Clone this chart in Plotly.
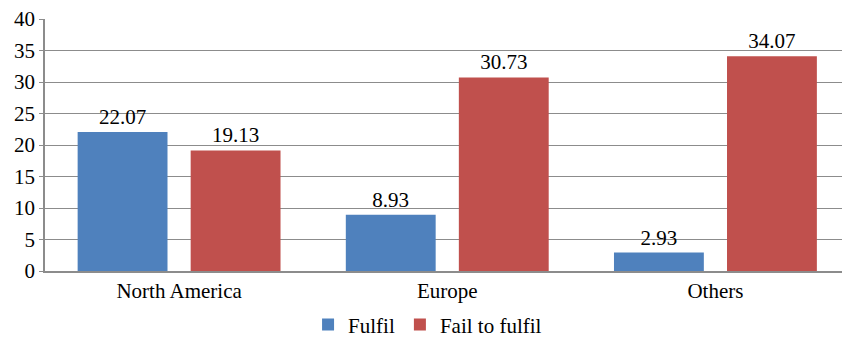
import plotly.graph_objects as go

categories = ["North America", "Europe", "Others"]
fulfil = [22.07, 8.93, 2.93]
fail_to_fulfil = [19.13, 30.73, 34.07]
y_ticks = [0, 5, 10, 15, 20, 25, 30, 35, 40]

font = dict(family='"Liberation Serif", "DejaVu Serif", serif', size=21, color="#000000")

fig = go.Figure()
fig.add_trace(go.Bar(
    name="Fulfil", x=categories, y=fulfil,
    marker=dict(color="#4F81BD", line=dict(width=0)),
    text=[f"{v:.2f}" for v in fulfil], textposition="outside",
    textfont=font, cliponaxis=False,
))
fig.add_trace(go.Bar(
    name="Fail to fulfil", x=categories, y=fail_to_fulfil,
    marker=dict(color="#C0504D", line=dict(width=0)),
    text=[f"{v:.2f}" for v in fail_to_fulfil], textposition="outside",
    textfont=font, cliponaxis=False,
))

fig.update_layout(
    width=842, height=343,
    margin=dict(l=45, r=0, t=19, b=72, autoexpand=False),
    paper_bgcolor="white", plot_bgcolor="white",
    font=font,
    barmode="group", bargap=0.157, bargroupgap=0.205,
    showlegend=True,
    legend=dict(orientation="h", x=0.48, xanchor="center", y=-0.214, yanchor="middle",
                font=font, traceorder="normal", itemsizing="constant"),
)
fig.update_xaxes(
    range=[-0.5, 2.472], showline=True, linecolor="#8c8c8c", linewidth=1.5,
    showgrid=False, ticks="", tickfont=font, automargin=False,
)
fig.update_yaxes(
    range=[0, 40], tickvals=y_ticks, showline=True, linecolor="#8c8c8c", linewidth=1.5,
    showgrid=True, gridcolor="#8c8c8c", gridwidth=1.3, zeroline=False,
    ticks="outside", ticklen=4, tickcolor="#8c8c8c", tickfont=font, automargin=False,
)

fig.write_html("out.html")
